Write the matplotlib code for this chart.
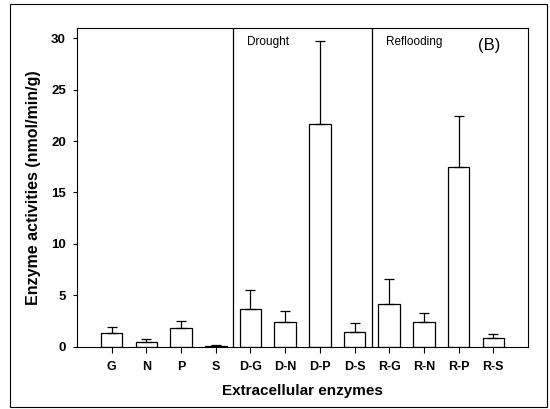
import matplotlib
matplotlib.use("Agg")
import matplotlib.pyplot as plt
from matplotlib.patches import Rectangle
import numpy as np

plt.rcParams["font.family"] = ["Liberation Sans", "DejaVu Sans"]

# enzyme activities (nmol/min/g), means and upper error
labels = ["G", "N", "P", "S", "D-G", "D-N", "D-P", "D-S", "R-G", "R-N", "R-P", "R-S"]
means = [1.3, 0.5, 1.8, 0.1, 3.7, 2.4, 21.7, 1.4, 4.2, 2.4, 17.5, 0.9]
errors = [0.6, 0.3, 0.7, 0.05, 1.8, 1.1, 8.0, 0.9, 2.4, 0.9, 4.9, 0.3]

fig = plt.figure(figsize=(5.5, 4.09), dpi=100)
ax = fig.add_axes([0.14, 0.152, 0.82, 0.78])

x = np.arange(len(labels))
ax.bar(x, means, width=0.62, color="white", edgecolor="black", linewidth=0.9)
ax.errorbar(x, means, yerr=[np.zeros(len(errors)), errors], fmt="none",
            ecolor="black", elinewidth=0.9, capsize=3.5, capthick=0.9)

# period dividers
ax.axvline(3.5, color="black", linewidth=0.9)
ax.axvline(7.5, color="black", linewidth=0.9)
ax.text(3.9, 29.6, "Drought", fontsize=8.5, va="center")
ax.text(7.9, 29.6, "Reflooding", fontsize=8.5, va="center")
ax.text(10.55, 29.3, "(B)", fontsize=12, va="center")

ax.set_xlim(-1, 12)
ax.set_ylim(0, 31)
ax.set_xticks(x)
ax.set_xticklabels(labels, fontsize=9)
ax.set_yticks([0, 5, 10, 15, 20, 25, 30])
ax.tick_params(axis="y", labelsize=9.5, length=3, width=0.8, direction="out", pad=5)
ax.tick_params(axis="x", length=4, width=0.8, direction="out", pad=6)
for lbl in ax.get_xticklabels() + ax.get_yticklabels():
    lbl.set_fontweight("bold")
for s in ax.spines.values():
    s.set_linewidth(0.8)

ax.set_xlabel("Extracellular enzymes", fontsize=11, fontweight="bold", labelpad=8)
ax.set_ylabel("Enzyme activities (nmol/min/g)", fontsize=11.5, fontweight="bold", labelpad=7)

# outer frame around the figure
fig.patches.append(Rectangle((0.018, 0.005), 0.977, 0.985, transform=fig.transFigure,
                             fill=False, edgecolor="black", linewidth=0.8))

fig.savefig("out.png", dpi=100)
